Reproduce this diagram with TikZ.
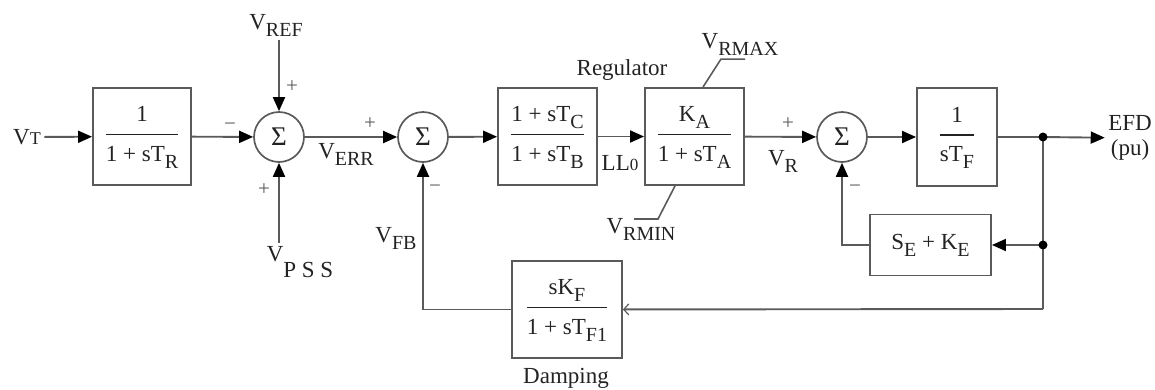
\documentclass[tikz,border=0pt]{standalone}
\usepackage{fontspec}
\setmainfont{Liberation Serif}
\usepackage{xcolor}
\usetikzlibrary{positioning,arrows.meta,calc}

\definecolor{wirec}{RGB}{90,90,90}
\definecolor{ink}{RGB}{35,35,35}
\setlength{\arrayrulewidth}{1.7pt}
\newcommand{\lowsub}[1]{\raisebox{-7pt}{\fontsize{20}{20}\selectfont #1}}
\newcommand{\blockfrac}[2]{\begin{tabular}{@{}c@{}}\rule[-12pt]{0pt}{22pt}#1\\\hline\rule{0pt}{26pt}#2\end{tabular}}

\begin{document}
\begin{tikzpicture}[x=1pt, y=-1pt,
    >={Triangle[length=14pt,width=12pt,color=black]},
    every node/.style={font=\fontsize{23}{25}\selectfont, text=ink},
    blk/.style={draw=wirec, line width=1.9pt, inner sep=0pt},
    sumc/.style={draw=wirec, line width=1.7pt, circle, inner sep=0pt, minimum size=50pt,
                 font=\fontsize{27}{27}\selectfont},
    sig/.style={draw=wirec, line width=1.9pt},
    arr/.style={sig, ->},
    fb/.style={sig, -{Straight Barb[length=5pt,width=11pt,line width=1.2pt]}},
    sgn/.style={font=\fontsize{21}{21}\selectfont, text=wirec},
    lim/.style={draw=wirec, line width=1.6pt}]
  \useasboundingbox (0,0) rectangle (1155,389);

  % forward path
  \node (vt) at (27,137) {V{\fontsize{18}{18}\selectfont T}};
  \node[blk, minimum width=98pt, minimum height=97pt] (lag) at (142,136.5)
      {\blockfrac{1}{1 + sT\lowsub{R}}};
  \node[sumc] (s1) at (279,137) {Σ};
  \node[sumc] (s2) at (423,137) {Σ};
  \node[blk, minimum width=99pt, minimum height=97pt] (ll) at (547.5,136.5)
      {\blockfrac{1 + sT\lowsub{C}}{1 + sT\lowsub{B}}};
  \node[blk, minimum width=99pt, minimum height=97pt] (reg) at (694.5,136.5)
      {\blockfrac{K\lowsub{A}}{1 + sT\lowsub{A}}};
  \node[sumc] (s3) at (842,137) {Σ};
  \node[blk, minimum width=80pt, minimum height=98pt] (exc) at (957,137)
      {\blockfrac{1}{sT\lowsub{F}}};
  \node[align=center] (efd) at (1130,138) {EFD\\(pu)};

  % feedback blocks
  \node[blk, minimum width=121pt, minimum height=61pt] (sek) at (930.5,245)
      {S\lowsub{E} + K\lowsub{E}};
  \node[blk, minimum width=110pt, minimum height=97pt] (damp) at (567,309.5)
      {\blockfrac{sK\lowsub{F}}{1 + sT\lowsub{F1}}};
  \coordinate (jn1) at (1043,137);
  \coordinate (jn2) at (1043,245);
  \coordinate (jn3) at (1043,309);

  % labels
  \node (vref) at (276,25) {V\lowsub{REF}};
  \node (vpss) at (300,262) {V\raisebox{-16pt}{P S S}};
  \node (verr) at (346,154) {V\lowsub{ERR}};
  \node (vfb) at (396,238) {V\lowsub{FB}};
  \node (vr) at (783,161) {V\lowsub{R}};
  \node (ll0) at (620,163) {LL{\fontsize{17}{17}\selectfont 0}};
  \node (reglbl) at (622,70) {Regulator};
  \node (damplbl) at (566,378) {Damping};
  \node (vrmax) at (740,44) {V\lowsub{RMAX}};
  \node (vrmin) at (641,229) {V\lowsub{RMIN}};

  \node[sgn] at (230,127) {−};
  \node[sgn] at (292,87) {+};
  \node[sgn] at (264,190) {+};
  \node[sgn] at (370,124) {+};
  \node[sgn] at (435,189) {−};
  \node[sgn] at (788,124) {+};
  \node[sgn] at (855,189) {−};

  % connectors
  \draw[arr] (vt) -- (lag);
  \draw[arr] (lag) -- (s1);
  \draw[arr] (vref.south -| s1) -- (s1);
  \draw[arr] (vpss.north -| s1) -- (s1);
  \draw[arr] (s1) -- (s2);
  \draw[arr] (s2) -- (ll);
  \draw[arr] (ll) -- (reg);
  \draw[arr] (reg) -- (s3);
  \draw[arr] (s3) -- (exc);
  \draw[sig] (exc) -- (jn1);
  \draw[arr] (jn1) -- (efd);
  \draw[sig] (jn1) -- (jn3);
  \draw[arr] (jn2) -- (sek);
  \draw[arr] (sek) -| (s3);
  \draw[fb] (jn3) -- (damp);
  \draw[arr] (damp) -| (s2);
  \fill (jn1) circle (4.5pt);
  \fill (jn2) circle (4.5pt);

  % limiter marks
  \draw[lim] ([xshift=8.5pt]reg.north) -- ++(18,-28) -- ++(24,0);
  \draw[lim] ([xshift=-19.5pt]reg.south) -- ++(-17,33) -- ++(-24,0);
\end{tikzpicture}
\end{document}
